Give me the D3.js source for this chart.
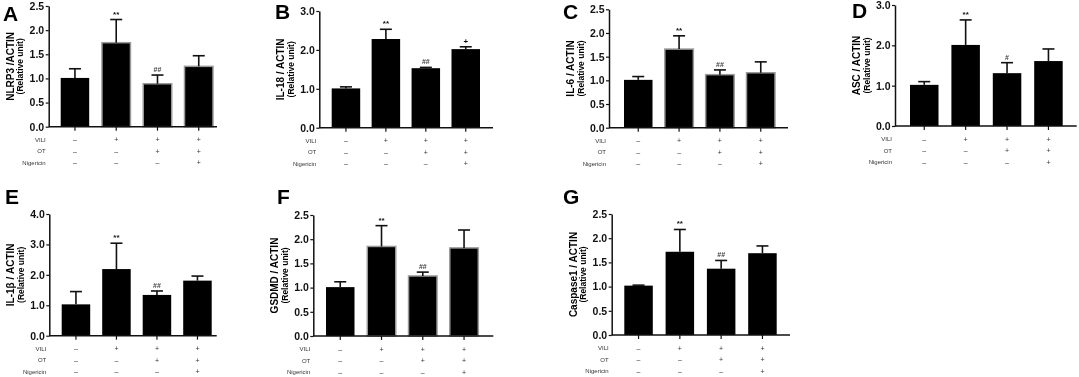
<!DOCTYPE html>
<html>
<head>
<meta charset="utf-8">
<script src="https://cdn.jsdelivr.net/npm/d3@7"></script>
<style>
  body { margin: 0; background: #fff; }
  svg { display: block; font-family: Arial, "Liberation Sans", sans-serif; will-change: transform; }
</style>
</head>
<body>
<div id="container"></div>
<script>
// groups (x categories)
const groups = ["Control", "VILI", "VILI+OT", "VILI+OT+Nigericin"];

// treatment rows under the x axis
const rowLabels = ["VILI", "OT", "Nigericin"];
const viliSigns = ["–", "+", "+", "+"];
const otSigns = ["–", "–", "+", "+"];
const nigSigns = ["–", "–", "–", "+"];

// means and SD
const nlrp3 = [1.01, 1.74, 0.89, 1.25];
const nlrp3Sd = [0.19, 0.48, 0.18, 0.22];
const il18 = [1.01, 2.28, 1.53, 2.02];
const il18Sd = [0.04, 0.25, 0.02, 0.06];
const il6 = [1.01, 1.66, 1.12, 1.16];
const il6Sd = [0.07, 0.28, 0.10, 0.23];
const asc = [1.02, 2.01, 1.31, 1.61];
const ascSd = [0.08, 0.62, 0.26, 0.30];
const il1b = [1.03, 2.19, 1.34, 1.81];
const il1bSd = [0.42, 0.85, 0.13, 0.15];
const gsdmd = [1.01, 1.85, 1.24, 1.82];
const gsdmdSd = [0.11, 0.43, 0.08, 0.37];
const casp1 = [1.02, 1.72, 1.37, 1.69];
const casp1Sd = [0.01, 0.46, 0.17, 0.15];

// significance marks
const sigA = ["", "**", "##", ""];
const sigB = ["", "**", "##", "+"];
const sigD = ["", "**", "#", ""];

// y tick values
const ticks25 = [0, 0.5, 1.0, 1.5, 2.0, 2.5];
const ticks3 = [0, 1.0, 2.0, 3.0];
const ticks4 = [0, 1.0, 2.0, 3.0, 4.0];

// panel layout
const panels = [
  { letter: "A", lx: 3,   ly: 21,  title: "NLRP3 /ACTIN",     mean: nlrp3, sd: nlrp3Sd, sig: sigA, ticks: ticks25, yMax: 2.5,
    axisX: 48.7, y0: 126.7, yTop: 6,   barL: 60.7, barR: 213,   end: 217,   outline: [1, 2, 3] },
  { letter: "B", lx: 275, ly: 19,  title: "IL-18 / ACTIN",    mean: il18,  sd: il18Sd,  sig: sigB, ticks: ticks3,  yMax: 3.0,
    axisX: 319.3, y0: 127.7, yTop: 11, barL: 331.7, barR: 480,  end: 493,   outline: [] },
  { letter: "C", lx: 563, ly: 19,  title: "IL-6 / ACTIN",     mean: il6,   sd: il6Sd,   sig: sigA, ticks: ticks25, yMax: 2.5,
    axisX: 609, y0: 127.7, yTop: 9.3,  barL: 624,   barR: 775,  end: 788,   outline: [1, 2, 3] },
  { letter: "D", lx: 852, ly: 18,  title: "ASC / ACTIN",      mean: asc,   sd: ascSd,   sig: sigD, ticks: ticks3,  yMax: 3.0,
    axisX: 895, y0: 126, yTop: 5,      barL: 910,   barR: 1062.7, end: 1076.7, outline: [] },
  { letter: "E", lx: 5,   ly: 204, title: "IL-1β / ACTIN",    mean: il1b,  sd: il1bSd,  sig: sigA, ticks: ticks4,  yMax: 4.0,
    axisX: 49.3, y0: 335.7, yTop: 214, barL: 61.7, barR: 211.7, end: 216.7, outline: [] },
  { letter: "F", lx: 277, ly: 204, title: "GSDMD / ACTIN",    mean: gsdmd, sd: gsdmdSd, sig: sigA, ticks: ticks25, yMax: 2.5,
    axisX: 313.3, y0: 336, yTop: 215,  barL: 326,   barR: 478.3, end: 493.3, outline: [1, 2, 3] },
  { letter: "G", lx: 563, ly: 204, title: "Caspase1 / ACTIN", mean: casp1, sd: casp1Sd, sig: sigA, ticks: ticks25, yMax: 2.5,
    axisX: 611.7, y0: 335, yTop: 214,  barL: 624.3, barR: 776.7, end: 790, outline: [] }
];

const width = 1079, height = 377;
const bw = 28.5;
const signRows = [viliSigns, otSigns, nigSigns];
const rowOffsets = [13, 24.5, 36];

const svg = d3.select("#container")
  .append("svg")
  .attr("width", width)
  .attr("height", height);

panels.forEach(p => {
  const g = svg.append("g");

  const y = d3.scaleLinear().domain([0, p.yMax]).range([p.y0, p.yTop]);
  const step = (p.barR - p.barL - bw) / (groups.length - 1);
  const x = d3.scaleBand()
    .domain(groups)
    .range([p.barL, p.barR])
    .paddingInner(1 - bw / step)
    .paddingOuter(0);

  // panel letter
  g.append("text")
    .attr("x", p.lx).attr("y", p.ly)
    .attr("font-size", 21).attr("font-weight", "bold")
    .text(p.letter);

  // y axis
  const ya = g.append("g")
    .attr("transform", `translate(${p.axisX},0)`)
    .call(d3.axisLeft(y).tickValues(p.ticks).tickFormat(d3.format(".1f")).tickSize(3).tickSizeOuter(0).tickPadding(1.5));
  ya.select(".domain").attr("stroke", "#111").attr("stroke-width", 1.5);
  ya.selectAll(".tick line").attr("stroke", "#111").attr("stroke-width", 1.2);
  ya.selectAll(".tick text")
    .attr("font-size", 10.5).attr("font-weight", "bold")
    .attr("font-family", "Arial, 'Liberation Sans', sans-serif")
    .attr("fill", "#111");

  // y title
  const midY = (p.y0 + p.yTop) / 2;
  g.append("text")
    .attr("transform", `translate(${p.axisX - 35},${midY}) rotate(-90)`)
    .attr("text-anchor", "middle")
    .attr("font-size", 10).attr("font-weight", "bold")
    .text(p.title);
  g.append("text")
    .attr("transform", `translate(${p.axisX - 25.5},${midY}) rotate(-90)`)
    .attr("text-anchor", "middle")
    .attr("font-size", 8.5).attr("font-weight", "bold")
    .text("(Relative unit)");

  // bars
  g.selectAll("rect.bar")
    .data(p.mean)
    .enter().append("rect")
    .attr("class", "bar")
    .attr("x", (d, i) => x(groups[i]))
    .attr("width", x.bandwidth())
    .attr("y", d => y(d))
    .attr("height", d => p.y0 - y(d))
    .attr("fill", "#000")
    .attr("stroke", (d, i) => p.outline.includes(i) ? "#9a9a9a" : "none")
    .attr("stroke-width", 1.5);

  // error bars (upper only)
  p.mean.forEach((m, i) => {
    const cx = x(groups[i]) + x.bandwidth() / 2;
    const top = y(m + p.sd[i]);
    g.append("line")
      .attr("x1", cx).attr("x2", cx)
      .attr("y1", y(m)).attr("y2", top)
      .attr("stroke", "#111").attr("stroke-width", 1.6);
    g.append("line")
      .attr("x1", cx - 6).attr("x2", cx + 6)
      .attr("y1", top).attr("y2", top)
      .attr("stroke", "#111").attr("stroke-width", 1.6);
    if (p.sig[i]) {
      const isHash = p.sig[i].startsWith("#");
      g.append("text")
        .attr("x", cx).attr("y", top - 3)
        .attr("text-anchor", "middle")
        .attr("font-size", isHash ? 7 : 8)
        .attr("font-weight", "bold")
        .attr("fill", isHash ? "#444" : "#111")
        .text(p.sig[i]);
    }
  });

  // baseline and x ticks
  g.append("line")
    .attr("x1", p.axisX).attr("x2", p.end)
    .attr("y1", p.y0).attr("y2", p.y0)
    .attr("stroke", "#111").attr("stroke-width", 1.5);
  const xa = g.append("g")
    .attr("transform", `translate(0,${p.y0})`)
    .call(d3.axisBottom(x).tickSize(4).tickFormat(""));
  xa.select(".domain").remove();
  xa.selectAll(".tick line").attr("stroke", "#111").attr("stroke-width", 1.2);

  // treatment rows
  rowLabels.forEach((lab, r) => {
    const ry = p.y0 + rowOffsets[r];
    g.append("text")
      .attr("x", p.axisX - 3).attr("y", ry + 2)
      .attr("text-anchor", "end")
      .attr("font-size", 6).attr("fill", "#333")
      .text(lab);
    g.selectAll(null)
      .data(signRows[r])
      .enter().append("text")
      .attr("x", (d, i) => x(groups[i]) + x.bandwidth() / 2)
      .attr("y", ry + 2.5)
      .attr("text-anchor", "middle")
      .attr("font-size", 7).attr("fill", "#333")
      .text(d => d);
  });
});
</script>
</body>
</html>
